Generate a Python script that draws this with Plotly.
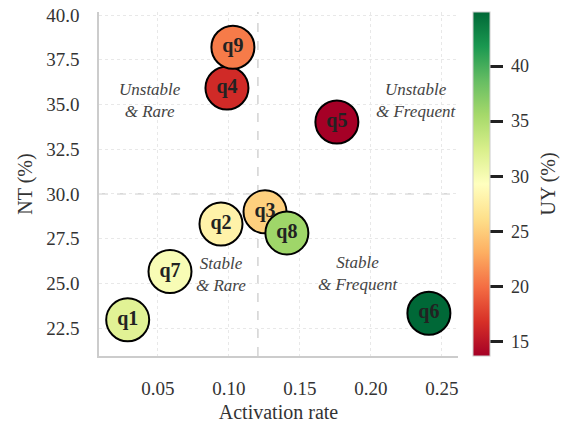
import plotly.graph_objects as go

labels = ["q1", "q2", "q3", "q4", "q5", "q6", "q7", "q8", "q9"]
activation = [0.0287, 0.0944, 0.1254, 0.0986, 0.176, 0.2408, 0.0585, 0.1408, 0.1028]
nt = [22.96, 28.32, 29.0, 35.92, 34.02, 23.33, 25.66, 27.82, 38.2]
uy = [31.8, 28.0, 25.2, 16.4, 13.7, 44.9, 29.9, 35.9, 20.6]

x_split = 0.1204
y_split = 30.0

quadrants = ["<i>Unstable<br>& Rare</i>", "<i>Unstable<br>& Frequent</i>",
             "<i>Stable<br>& Rare</i>", "<i>Stable<br>& Frequent</i>"]
quad_x = [0.0444, 0.2317, 0.0944, 0.1906]
quad_y = [35.2, 35.2, 25.47, 25.53]

cbar_ticks = [15, 20, 25, 30, 35, 40]
x_ticks = [0.05, 0.10, 0.15, 0.20, 0.25]
y_ticks = [22.5, 25.0, 27.5, 30.0, 32.5, 35.0, 37.5, 40.0]

rdylgn = [
    [0.0, "#a50026"], [0.1, "#d73027"], [0.2, "#f46d43"], [0.3, "#fdae61"],
    [0.4, "#fee08b"], [0.5, "#ffffbf"], [0.6, "#d9ef8b"], [0.7, "#a6d96a"],
    [0.8, "#66bd63"], [0.9, "#1a9850"], [1.0, "#006837"],
]

FONT = "Liberation Serif, Times New Roman, DejaVu Serif, serif"
TXT = "#333333"

fig = go.Figure()
fig.add_trace(go.Scatter(
    x=activation, y=nt, mode="markers+text", text=labels,
    textposition="middle center",
    textfont=dict(family=FONT, size=20, color="#222222", weight="bold"),
    marker=dict(
        size=43, color=uy, colorscale=rdylgn, cmin=min(uy), cmax=max(uy),
        line=dict(color="black", width=2),
        colorbar=dict(
            x=1.042, xanchor="left", xpad=0, ypad=0, y=0.5, yanchor="middle",
            len=1.0, lenmode="fraction", thickness=17,
            outlinecolor="#cccccc", outlinewidth=1,
            ticks="outside", ticklen=13, tickwidth=2.5, tickcolor="#222222",
            tickvals=cbar_ticks,
            ticktext=["\u00a0" + str(v) for v in cbar_ticks],
            tickfont=dict(family=FONT, size=18, color=TXT),
        ),
    ),
    hoverinfo="skip", showlegend=False,
))

fig.add_annotation(x=1.252, y=0.5, xref="paper", yref="paper", text="UY (%)",
                   textangle=-90, showarrow=False, xanchor="center", yanchor="middle",
                   font=dict(family=FONT, size=20, color=TXT))

fig.add_shape(type="line", x0=x_split, x1=x_split, y0=0, y1=1, xref="x", yref="paper",
              line=dict(color="#cccccc", width=1.3, dash="dash"), layer="below")
fig.add_shape(type="line", x0=0, x1=1, y0=y_split, y1=y_split, xref="paper", yref="y",
              line=dict(color="#cccccc", width=1.3, dash="dash"), layer="below")

for t, qx, qy in zip(quadrants, quad_x, quad_y):
    fig.add_annotation(x=qx, y=qy, text=t, showarrow=False,
                       font=dict(family=FONT, size=17, color="#444444"), align="center")

fig.update_layout(
    width=562, height=423,
    margin=dict(l=99, r=104, t=12, b=67, autoexpand=False),
    paper_bgcolor="white", plot_bgcolor="white",
    font=dict(family=FONT, color=TXT),
    xaxis=dict(
        range=[0.0085, 0.2613], tickvals=x_ticks,
        ticktext=[f"{v:.2f}" for v in x_ticks],
        showgrid=True, gridcolor="#e8e8e8", griddash="dot", gridwidth=1,
        zeroline=False, showline=True, linecolor="#cccccc", linewidth=1.5,
        ticks="", ticklabelstandoff=14, automargin=False,
        tickfont=dict(family=FONT, size=19, color=TXT),
        title=dict(text="Activation rate", font=dict(family=FONT, size=20, color=TXT),
                   standoff=8),
    ),
    yaxis=dict(
        range=[20.94, 40.17], tickvals=y_ticks,
        ticktext=[f"{v:.1f}" for v in y_ticks],
        showgrid=True, gridcolor="#e8e8e8", griddash="dot", gridwidth=1,
        zeroline=False, showline=True, linecolor="#cccccc", linewidth=1.5,
        ticks="", ticklabelstandoff=14, automargin=False,
        tickfont=dict(family=FONT, size=19, color=TXT),
        title=dict(text="NT (%)", font=dict(family=FONT, size=20, color=TXT),
                   standoff=8),
    ),
)

fig.write_html("out.html")
